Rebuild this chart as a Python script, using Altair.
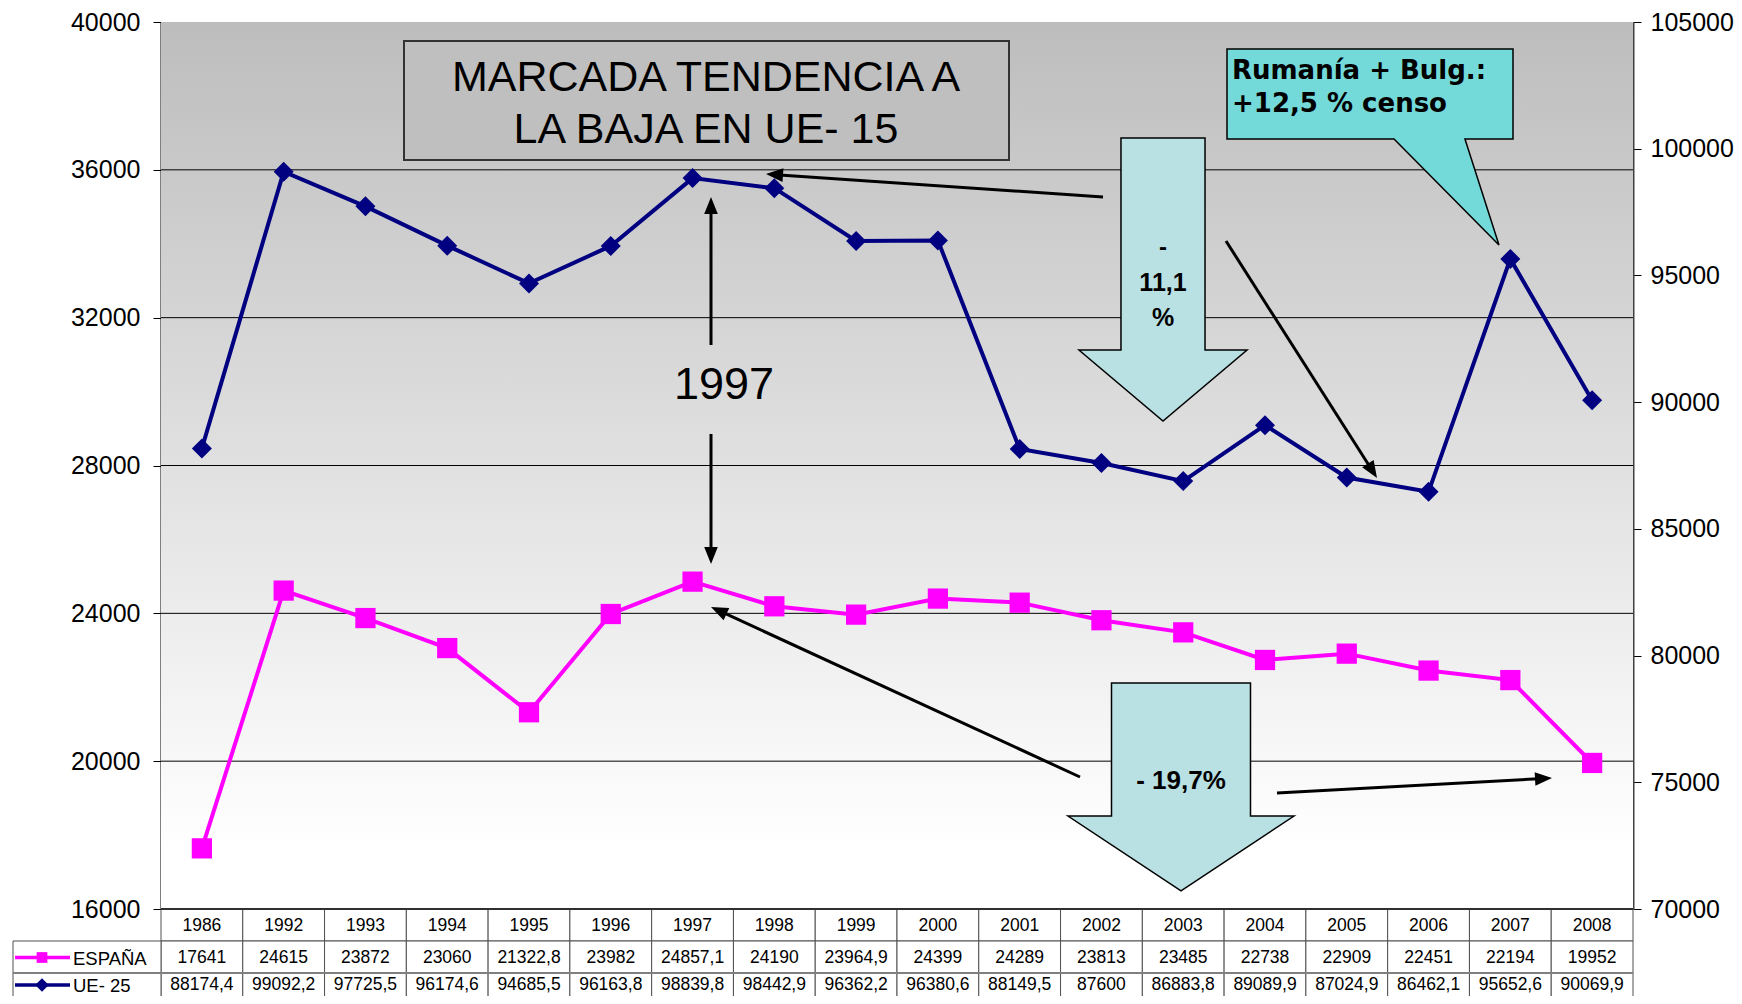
import math
import altair as alt
import pandas as pd

# ---------------- data ----------------
years = ["1986", "1992", "1993", "1994", "1995", "1996", "1997", "1998", "1999",
         "2000", "2001", "2002", "2003", "2004", "2005", "2006", "2007", "2008"]
espana = [17641, 24615, 23872, 23060, 21322.8, 23982, 24857.1, 24190, 23964.9,
          24399, 24289, 23813, 23485, 22738, 22909, 22451, 22194, 19952]
ue25 = [88174.4, 99092.2, 97725.5, 96174.6, 94685.5, 96163.8, 98839.8, 98442.9, 96362.2,
        96380.6, 88149.5, 87600, 86883.8, 89089.9, 87024.9, 86462.1, 95652.6, 90069.9]
left_ticks = [16000, 20000, 24000, 28000, 32000, 36000, 40000]
right_ticks = [70000, 75000, 80000, 85000, 90000, 95000, 100000, 105000]
grid_values = [20000, 24000, 28000, 32000, 36000]
series_names = ["ESPAÑA", "UE- 25"]


def es_num(v):
    s = "%.1f" % v
    if s.endswith(".0"):
        s = s[:-2]
    return s.replace(".", ",")


df = pd.DataFrame({
    "year": years,
    "espana": espana,
    "ue25": ue25,
    "esp_txt": [es_num(v) for v in espana],
    "ue_txt": [es_num(v) for v in ue25],
})
one = pd.DataFrame({"k": [0]})

# ---------------- layout ----------------
W, H = 1472, 887
OX, OY = 161, 22          # page position of plot origin
FONT = "Liberation Sans"
MAGENTA = "#FF00FF"
NAVY = "#000080"


def px(x):
    return alt.value(x - OX)


def py(y):
    return alt.value(y - OY)


xscale = alt.Scale(type="band", domain=years, paddingInner=0, paddingOuter=0)


def x_band():
    return alt.X("year:O", sort=years, scale=xscale, axis=None)


def x_mid():
    return alt.X("year:O", sort=years, scale=xscale, axis=None, bandPosition=0.5)


left_axis = alt.Axis(values=left_ticks, format="d", title=None, grid=False, orient="left",
                     labelFont=FONT, labelFontSize=25, labelColor="black", labelPadding=13,
                     labelFlush=False, labelOverlap=False, tickSize=8, tickColor="black",
                     tickWidth=1, domainColor="black", domainWidth=2)
right_axis = alt.Axis(values=right_ticks, format="d", title=None, grid=False, orient="right",
                      labelFont=FONT, labelFontSize=25, labelColor="black", labelPadding=9,
                      labelFlush=False, labelOverlap=False, tickSize=8, tickColor="black",
                      tickWidth=1, domainColor="#404040", domainWidth=2)


def y_left(field):
    return alt.Y(field, scale=alt.Scale(domain=[16000, 40000], nice=False, zero=False), axis=left_axis)


def y_right(field):
    return alt.Y(field, scale=alt.Scale(domain=[70000, 105000], nice=False, zero=False), axis=right_axis)


base = alt.Chart(df)

# background gradient of plot area
bg = alt.Chart(one).mark_rect(
    fill=alt.LinearGradient(
        gradient="linear",
        stops=[alt.GradientStop(color="#BDBDBD", offset=0),
               alt.GradientStop(color="#FFFFFF", offset=0.93),
               alt.GradientStop(color="#FFFFFF", offset=1)],
        x1=0, x2=0, y1=0, y2=1),
    strokeWidth=0,
).encode(x=alt.value(0), x2=alt.value(W), y=alt.value(0), y2=alt.value(H))

grid = alt.Chart(pd.DataFrame({"v": grid_values})).mark_rule(color="black", strokeWidth=1).encode(
    y=y_left("v:Q"))

esp_line = base.mark_line(color=MAGENTA, strokeWidth=4).encode(x=x_mid(), y=y_left("espana:Q"))
esp_pts = base.mark_point(shape="square", filled=True, color=MAGENTA, size=410, opacity=1).encode(
    x=x_mid(), y=y_left("espana:Q"))
left_group = alt.layer(grid, esp_line, esp_pts)

ue_line = base.mark_line(color=NAVY, strokeWidth=4).encode(x=x_mid(), y=y_right("ue25:Q"))
ue_pts = base.mark_point(shape="diamond", filled=True, color=NAVY, size=400, opacity=1).encode(
    x=x_mid(), y=y_right("ue25:Q"))
right_group = alt.layer(ue_line, ue_pts)

layers = [bg, left_group]

# ---------------- annotations ----------------
ann = []
# title box
ann.append(alt.Chart(one).mark_rect(fill="#BFBFBF", stroke="#333333", strokeWidth=2).encode(
    x=px(404), x2=px(1009), y=py(41), y2=py(160)))


def shape(path, cx, cy, side, fill):
    return alt.Chart(one).mark_point(shape=path, filled=True, fill=fill, stroke="black",
                                     strokeWidth=1.5, size=side * side, opacity=1).encode(
        x=px(cx), y=py(cy))


block1 = "M-0.297,-1L0.297,-1L0.297,0.498L0.594,0.498L0,1L-0.594,0.498L-0.297,0.498Z"
block2 = "M-0.615,-0.92L0.615,-0.92L0.615,0.257L1,0.257L0,0.92L-1,0.257L-0.615,0.257Z"
callout = "M-1,-0.685L1,-0.685L1,-0.056L0.664,-0.056L0.902,0.685L0.168,-0.056L-1,-0.056Z"
ann.append(shape(block1, 1163, 279.5, 283, "#B9E0E3"))
ann.append(shape(block2, 1181, 787, 226, "#B9E0E3"))
ann.append(shape(callout, 1370, 147, 286, "#73D9D9"))

layers += ann
layers.append(right_group)

# arrows (tail -> tip, page pixels)
arrows = [
    (711, 345, 711, 197),
    (711, 434, 711, 564),
    (1103, 197, 766, 174),
    (1226, 241, 1377, 478),
    (1080, 777, 711, 607),
    (1277, 793, 1552, 778),
]
HEAD = 17
for (x0, y0, x1, y1) in arrows:
    ang = math.atan2(y1 - y0, x1 - x0)
    dx, dy = math.cos(ang), math.sin(ang)
    bx, by = x1 - dx * HEAD * 0.8, y1 - dy * HEAD * 0.8
    layers.append(alt.Chart(one).mark_rule(color="black", strokeWidth=3).encode(
        x=px(x0), y=py(y0), x2=px(bx), y2=py(by)))
    layers.append(alt.Chart(one).mark_point(
        shape="M1,0L-1,-0.8L-1,0.8Z", filled=True, fill="black", strokeWidth=0,
        size=HEAD * HEAD, angle=math.degrees(ang) % 360, opacity=1).encode(
        x=px(x1 - dx * HEAD / 2), y=py(y1 - dy * HEAD / 2)))


def label(txt, x, y, size, weight="normal", align="center", font=FONT):
    return alt.Chart(one).mark_text(text=txt, font=font, fontSize=size, fontWeight=weight,
                                    align=align, baseline="middle", color="black").encode(
        x=px(x), y=py(y))


layers += [
    label("MARCADA TENDENCIA A", 706, 78, 43),
    label("LA BAJA EN UE- 15", 706, 130, 43),
    label("1997", 724, 385, 45),
    label("-", 1163, 248, 24, "bold"),
    label("11,1", 1163, 283, 25, "bold"),
    label("%", 1163, 318, 25, "bold"),
    label("- 19,7%", 1181, 781, 26, "bold"),
    label("Rumanía + Bulg.:", 1232, 71, 26, "bold", "left", "DejaVu Sans"),
    label("+12,5 % censo", 1232, 104, 26, "bold", "left", "DejaVu Sans"),
]

# ---------------- data table ----------------
rows = [(909, 941), (941, 973), (973, 1005)]
text_y = [925.5, 957.5, 985]
for (t, b) in rows:
    layers.append(base.mark_rect(fill="white", stroke="#505050", strokeWidth=1).encode(
        x=x_band(), y=py(t), y2=py(b)))
for (t, b) in rows[1:]:
    layers.append(alt.Chart(one).mark_rect(fill="white", stroke="#505050", strokeWidth=1).encode(
        x=px(13), x2=px(161), y=py(t), y2=py(b)))
# thicker separator between the two series rows
layers.append(alt.Chart(one).mark_rule(color="#808080", strokeWidth=2).encode(
    x=px(13), x2=px(1633), y=py(973)))
# plot bottom line
layers.append(alt.Chart(one).mark_rule(color="#303030", strokeWidth=2).encode(
    x=alt.value(0), x2=alt.value(W), y=alt.value(H)))

for field, ty in zip(["year", "esp_txt", "ue_txt"], text_y):
    layers.append(base.mark_text(font=FONT, fontSize=17.5, color="black", baseline="middle").encode(
        x=x_mid(), y=py(ty), text=alt.Text(field + ":N")))

# legend keys in table
for name, color, shp, msize, ty in [
        (series_names[0], MAGENTA, "square", 115, text_y[1]),
        (series_names[1], NAVY, "diamond", 180, text_y[2])]:
    layers.append(alt.Chart(one).mark_rule(color=color, strokeWidth=3.5).encode(
        x=px(15), x2=px(70), y=py(ty)))
    layers.append(alt.Chart(one).mark_point(shape=shp, filled=True, color=color, size=msize,
                                            opacity=1).encode(x=px(42), y=py(ty)))
    layers.append(label(name, 73, ty + 1, 18.5, align="left"))

chart = alt.layer(*layers).resolve_scale(y="independent").properties(
    width=W, height=H,
    autosize=alt.AutoSizeParams(type="none"),
    padding={"left": OX - 8, "top": OY - 8, "right": 101, "bottom": 87},
).configure_view(stroke="#808080", strokeWidth=1).configure(background="white")

chart.save("out.html", embed_options={"renderer": "svg", "actions": False})
